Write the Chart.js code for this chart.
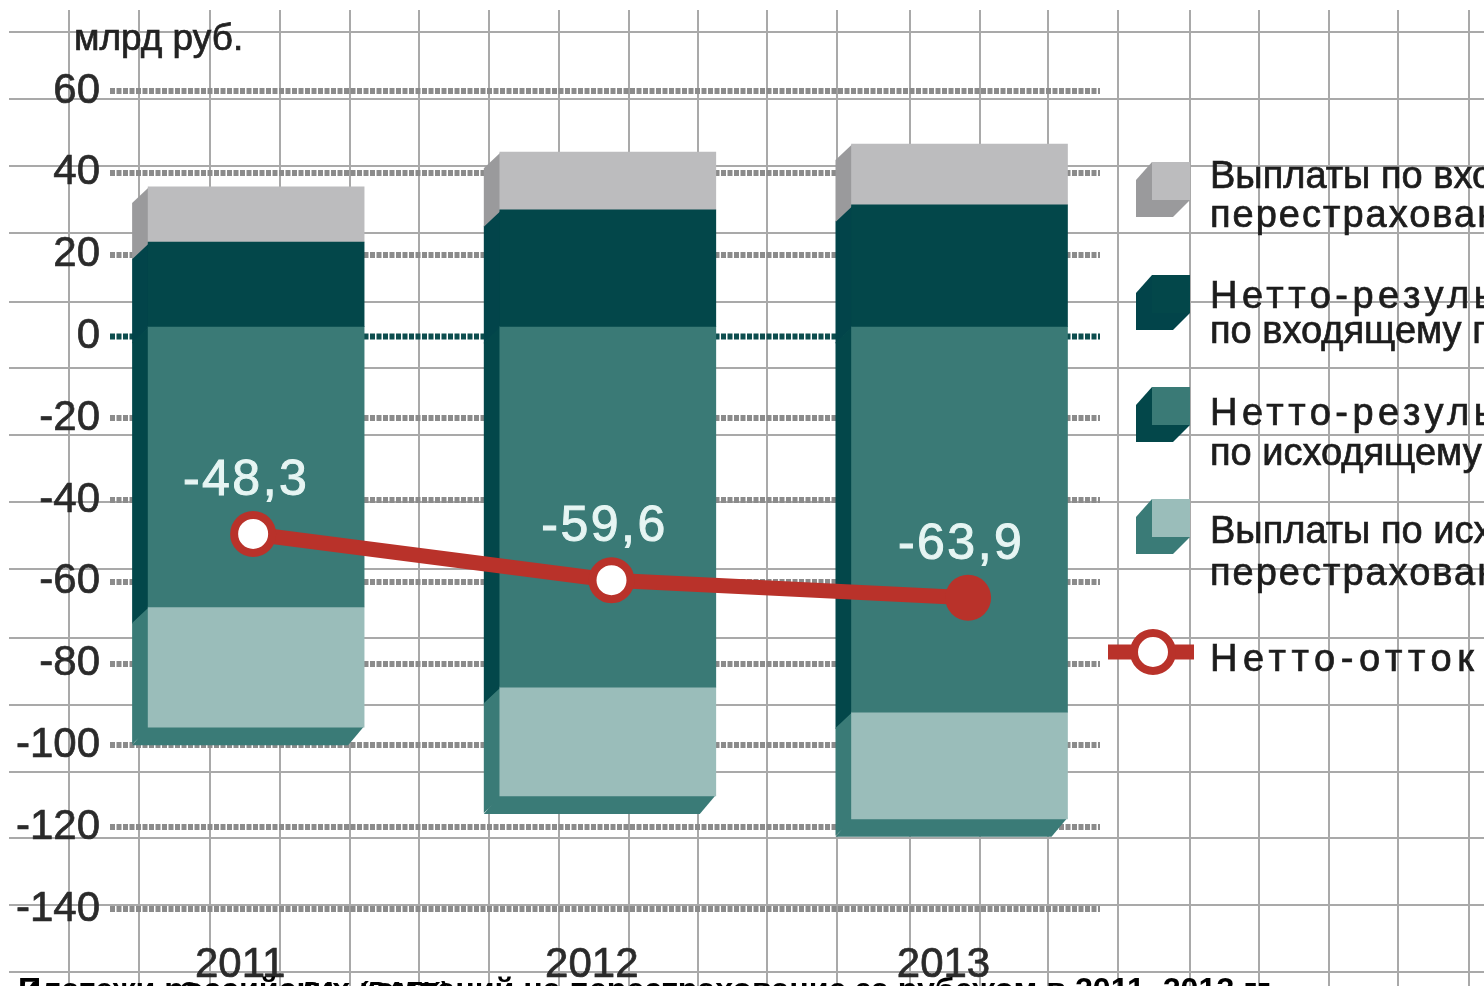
<!DOCTYPE html>
<html lang="ru">
<head>
<meta charset="utf-8">
<title>Платежи российских компаний на перестрахование за рубежом</title>
<script src="https://cdn.jsdelivr.net/npm/chart.js@4"></script>
<style>
html,body{margin:0;padding:0;background:#fff;overflow:hidden}
canvas{display:block}
</style>
</head>
<body>
<canvas id="c" width="1484" height="986"></canvas>
<script>
const years = [2011, 2012, 2013];
const inboundPayouts = [13.5, 14.1, 14.9];
const inboundNet = [20.6, 28.5, 29.7];
const outboundNet = [-68.6, -88.2, -94.3];
const outboundPayouts = [-29.4, -26.6, -26.1];
const netOutflow = [-48.3, -59.6, -63.9];
const netOutflowX = [2011.037, 2012.056, 2013.07];
const yTitle = 'млрд руб.';
const caption = 'Платежи российских компаний на перестрахование за рубежом в 2011–2013 гг.';
const source = 'Источник: «Эксперт РА» (RAEX)';
const legendTexts = [
  ['Выплаты по входящему', 'перестрахованию'],
  ['Нетто-результат', 'по входящему перестрахованию'],
  ['Нетто-результат', 'по исходящему перестрахованию'],
  ['Выплаты по исходящему', 'перестрахованию'],
  ['Нетто-отток']
];

const FACE = {grey:'#bcbcbe', dark:'#03474a', mid:'#3a7a76', light:'#9abdba'};
const SIDE = {grey:'#9a9a9c', dark:'#02444a', mid:'#03474a', light:'#3a7b77'};
const RED = '#b9322a';
const TICK_GREY = '#8b8b8b', TICK_ZERO = '#0d4d4e';
const FONT = '"Liberation Sans",sans-serif';
const DX = 16, DY = 10, DEPTH = 16;

function poly(ctx, pts, fill){
  ctx.fillStyle = fill; ctx.beginPath();
  pts.forEach((p,i)=> i ? ctx.lineTo(p[0],p[1]) : ctx.moveTo(p[0],p[1]));
  ctx.closePath(); ctx.fill();
}
function heavyText(ctx, t, x, y, w){
  ctx.lineWidth = w; ctx.strokeStyle = ctx.fillStyle;
  ctx.strokeText(t, x, y); ctx.fillText(t, x, y);
}

const paperGrid = {
  id:'paperGrid',
  beforeDraw(chart){
    const {ctx} = chart;
    const hs = [32,99,166,233,302,368,435,502,569,638,705,772,838,905,972];
    const vs = [69,139,210,280,350,419,489,559,629,698,767,837,910,980,1048,1118,1190,1259,1329,1398,1469];
    ctx.save();
    ctx.fillStyle = '#fff'; ctx.fillRect(0,0,1484,986);
    ctx.strokeStyle = '#a9a9a9'; ctx.lineWidth = 2;
    hs.forEach(y=>{ctx.beginPath();ctx.moveTo(9,y);ctx.lineTo(1484,y);ctx.stroke();});
    vs.forEach(x=>{ctx.beginPath();ctx.moveTo(x,10);ctx.lineTo(x,986);ctx.stroke();});
    ctx.restore();
  }
};

const depth3d = {
  id:'depth3d',
  beforeDatasetsDraw(chart){
    const {ctx, chartArea} = chart;
    ctx.save();
    // zero tick keeps a native width of 0 so the stacks touch; its dotted line is drawn here
    const y0 = chart.scales.y.getPixelForValue(0);
    ctx.strokeStyle = TICK_ZERO; ctx.lineWidth = 6; ctx.setLineDash([5,1.5]);
    ctx.beginPath(); ctx.moveTo(chartArea.left,y0); ctx.lineTo(chartArea.right,y0); ctx.stroke();
    ctx.setLineDash([]);
    chart.data.datasets.forEach((ds,di)=>{
      if(ds.type !== 'bar') return;
      const meta = chart.getDatasetMeta(di);
      meta.data.forEach(bar=>{
        const L = bar.x - bar.width/2 + DX, R = L + bar.width;
        const a = Math.min(bar.y,bar.base) - DY, b = Math.max(bar.y,bar.base) - DY;
        poly(ctx,[[L+1,a],[L+1,b+1],[L-DEPTH,b+1+DEPTH],[L-DEPTH,a+DEPTH]],ds.sideColor);
        if(ds.isBottom){
          poly(ctx,[[L,b-1],[R,b-1],[R-DEPTH,b+DEPTH+2],[L-DEPTH,b+DEPTH+2]],ds.sideColor);
        }
      });
    });
    ctx.restore();
  },
  beforeDatasetDraw(chart,args){
    const ds = chart.data.datasets[args.index];
    chart.ctx.save();
    if(ds.type === 'bar') chart.ctx.translate(DX,-DY);
  },
  afterDatasetDraw(chart){ chart.ctx.restore(); }
};

const annotations = {
  id:'annotations',
  afterDatasetsDraw(chart){
    const {ctx} = chart;
    ctx.save();
    // y-axis title
    ctx.fillStyle = '#222'; ctx.textAlign='left'; ctx.textBaseline='alphabetic';
    ctx.font = '37px '+FONT;
    heavyText(ctx,yTitle,74,50,0.7);
    // value labels
    const line = chart.getDatasetMeta(chart.data.datasets.length-1);
    ctx.font = '50px '+FONT; ctx.letterSpacing='2.5px';
    ctx.fillStyle='#e6f5f3'; ctx.textAlign='center'; ctx.textBaseline='middle';
    line.data.forEach((pt,i)=>{
      heavyText(ctx,netOutflow[i].toFixed(1).replace('.',','), pt.x-7, pt.y-53, 1);
    });
    ctx.letterSpacing='0px';
    // legend swatches
    const keys = ['grey','dark','mid','light'];
    const tops = [162,275,387,499];
    keys.forEach((k,i)=>{
      const x=1136,y=tops[i];
      poly(ctx,[[x+16,y],[x+54,y],[x+54,y+38],[x+37,y+55],[x,y+55],[x,y+18]],SIDE[k]);
      ctx.fillStyle=FACE[k]; ctx.fillRect(x+16,y,38,38);
    });
    ctx.strokeStyle=RED; ctx.lineWidth=15;
    ctx.beginPath();ctx.moveTo(1108,652);ctx.lineTo(1194,652);ctx.stroke();
    ctx.lineWidth=8; ctx.fillStyle='#fff';
    ctx.beginPath();ctx.arc(1153,652,19,0,Math.PI*2);ctx.fill();ctx.stroke();
    // legend texts
    const bases = [[188,227],[308,343],[425,465],[543,585],[671]];
    ctx.fillStyle='#1c1c1c'; ctx.textAlign='left'; ctx.textBaseline='alphabetic';
    ctx.font='38px '+FONT;
    legendTexts.forEach((ls,i)=>ls.forEach((t,j)=>{
      ctx.letterSpacing = t==='Нетто-отток' ? '5.6px' : t.startsWith('Нетто') ? '4.5px' : t.startsWith('перестр') ? '2px' : '0px';
      heavyText(ctx,t,1210,bases[i][j],0.7);
    }));
    ctx.letterSpacing='0px';
    // caption
    ctx.fillStyle='#000';
    ctx.font='bold 32.2px '+FONT;
    ctx.fillText(caption,18,1000);
    ctx.font='italic bold 26px '+FONT;
    ctx.fillText(source,18,1000);
    ctx.restore();
  }
};

const barDs = (label,vals,key,extra) => Object.assign({
  type:'bar', label,
  data: years.map((x,i)=>({x,y:vals[i]})),
  backgroundColor: FACE[key], sideColor: SIDE[key],
  barThickness: 216, stack:'s', order:2, borderWidth:0
},extra||{});

new Chart(document.getElementById('c'),{
  data:{
    datasets:[
      barDs('Нетто-результат по входящему перестрахованию',inboundNet,'dark'),
      barDs('Выплаты по входящему перестрахованию',inboundPayouts,'grey'),
      barDs('Нетто-результат по исходящему перестрахованию',outboundNet,'mid'),
      barDs('Выплаты по исходящему перестрахованию',outboundPayouts,'light',{isBottom:true}),
      {
        type:'line', label:'Нетто-отток',
        data: netOutflowX.map((x,i)=>({x,y:netOutflow[i]})),
        borderColor:RED, borderWidth:15, tension:0, order:1, fill:false,
        pointRadius:[19,19,23], pointBorderWidth:[8,8,0],
        pointBorderColor:RED, pointBackgroundColor:['#ffffff','#ffffff',RED]
      }
    ]
  },
  options:{
    responsive:false, animation:false, events:[],
    layout:{padding:{top:91,right:384,left:0,bottom:0}},
    plugins:{legend:{display:false},tooltip:{enabled:false},title:{display:false}},
    scales:{
      x:{
        type:'linear', stacked:true, min:2010.63, max:2013.445, offset:false,
        afterFit(s){s.height=77;},
        grid:{display:false,offset:false}, border:{display:false},
        ticks:{stepSize:1,includeBounds:false,autoSkip:false,maxRotation:0,padding:23,
          color:'#2a2a2a',textStrokeColor:'#2a2a2a',textStrokeWidth:0.7,
          font:{family:FONT,size:42},callback:v=>String(v)}
      },
      y:{
        stacked:true, min:-140, max:60,
        afterFit(s){s.width=110;},
        grid:{
          drawTicks:false, color:TICK_GREY,
          lineWidth:c=>c.tick && c.tick.value===0 ? 0 : 6
        },
        border:{display:false,dash:[5,1.5]},
        ticks:{stepSize:20,padding:10,color:'#2a2a2a',textStrokeColor:'#2a2a2a',textStrokeWidth:0.7,
          font:{family:FONT,size:42},callback:v=>String(v)}
      }
    }
  },
  plugins:[paperGrid,depth3d,annotations]
});
</script>
</body>
</html>
